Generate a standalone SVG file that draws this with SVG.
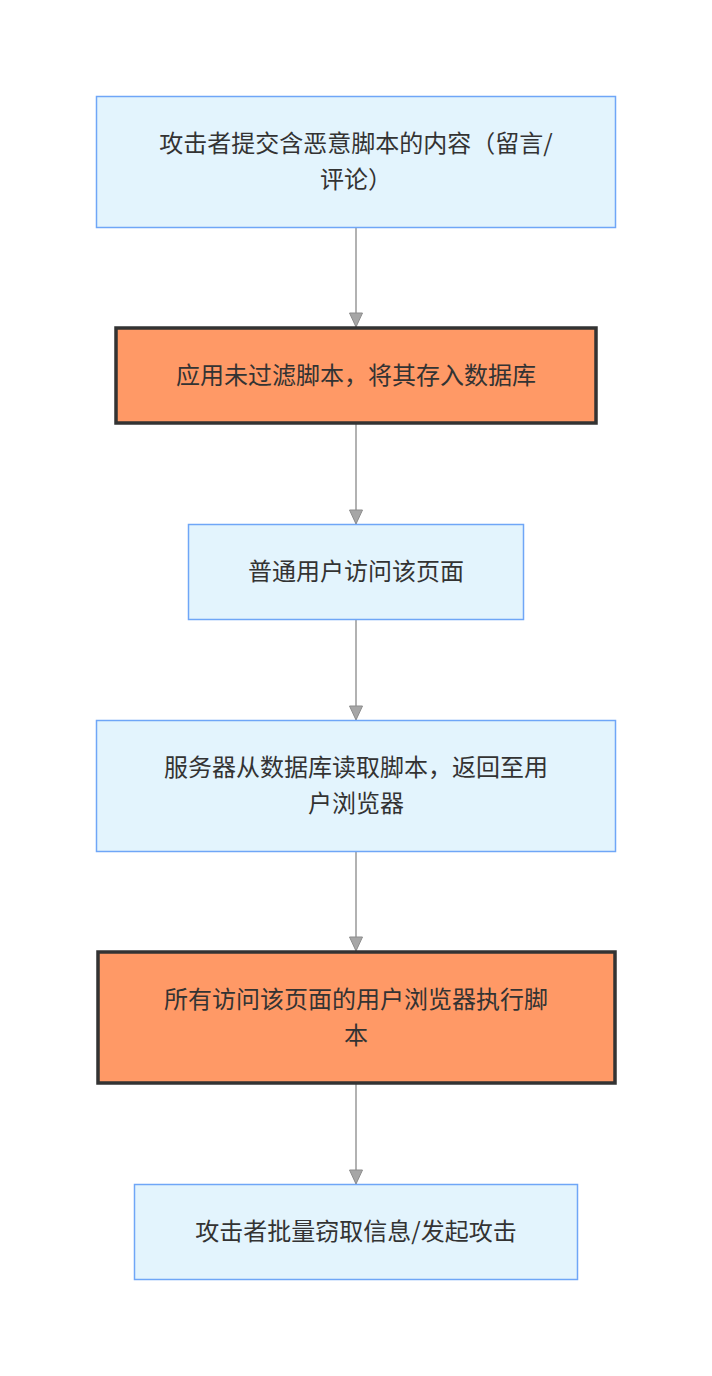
<svg xmlns="http://www.w3.org/2000/svg" width="712" height="1376" viewBox="0 0 712 1376">
<style>
.n{fill:#e3f4fd;stroke:#6fa6f7;stroke-width:1.5}
.h{fill:#ff9966;stroke:#333333;stroke-width:3.5}
.t{font-family:"Noto Sans CJK SC","Noto Sans",sans-serif;font-size:24px;fill:#333333;text-anchor:middle;dominant-baseline:central}
.e{stroke:#999999;stroke-width:1.5;fill:none;marker-end:url(#a)}
</style>
<defs>
<marker id="a" markerUnits="userSpaceOnUse" markerWidth="16" markerHeight="16" refX="7" refY="15" orient="0" viewBox="0 0 14 16">
<path d="M0.5,1 L13.5,1 L7,15 Z" fill="#a6a6a6" stroke="#8c8c8c" stroke-width="1"/>
</marker>
</defs>
<rect width="712" height="1376" fill="#ffffff"/>
<g id="connectors">
<line class="e" x1="356" y1="228" x2="356" y2="327"/>
<line class="e" x1="356" y1="424" x2="356" y2="524"/>
<line class="e" x1="356" y1="620" x2="356" y2="720"/>
<line class="e" x1="356" y1="852" x2="356" y2="951"/>
<line class="e" x1="356" y1="1084" x2="356" y2="1184"/>
</g>
<g id="n1">
<rect class="n" x="96.5" y="96.5" width="519" height="131"/>
<text class="t" x="356" y="141">攻击者提交含恶意脚本的内容（留言/</text>
<text class="t" x="356" y="177">评论）</text>
</g>
<g id="n2">
<rect class="h" x="116" y="328" width="480" height="95"/>
<text class="t" x="356" y="373">应用未过滤脚本，将其存入数据库</text>
</g>
<g id="n3">
<rect class="n" x="188.5" y="524.5" width="335" height="95"/>
<text class="t" x="356" y="569">普通用户访问该页面</text>
</g>
<g id="n4">
<rect class="n" x="96.5" y="720.5" width="519" height="131"/>
<text class="t" x="356" y="765">服务器从数据库读取脚本，返回至用</text>
<text class="t" x="356" y="801">户浏览器</text>
</g>
<g id="n5">
<rect class="h" x="98" y="952" width="517" height="131"/>
<text class="t" x="356" y="997">所有访问该页面的用户浏览器执行脚</text>
<text class="t" x="356" y="1033">本</text>
</g>
<g id="n6">
<rect class="n" x="134.5" y="1184.5" width="443" height="95"/>
<text class="t" x="356" y="1229">攻击者批量窃取信息/发起攻击</text>
</g>
</svg>
